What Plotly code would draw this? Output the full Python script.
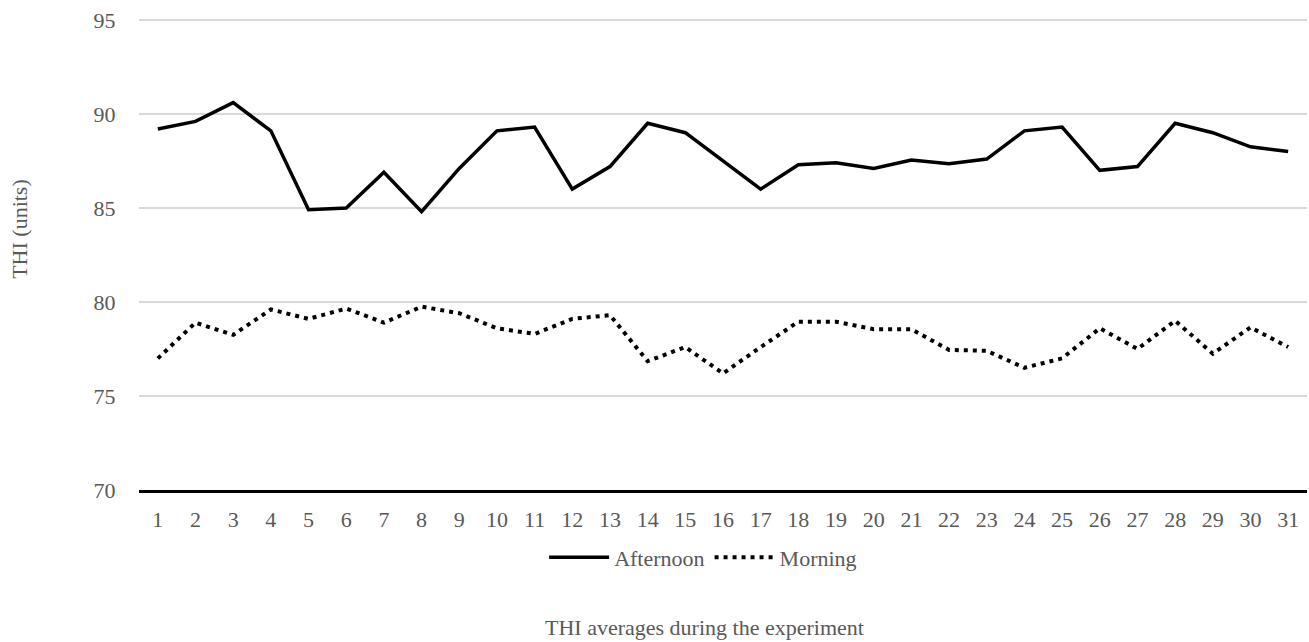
import plotly.graph_objects as go

days = [str(i) for i in range(1, 32)]
afternoon = [89.2, 89.6, 90.6, 89.1, 84.9, 85.0, 86.9, 84.8, 87.1, 89.1,
             89.3, 86.0, 87.2, 89.5, 89.0, 87.5, 86.0, 87.3, 87.4, 87.1,
             87.55, 87.35, 87.6, 89.1, 89.3, 87.0, 87.2, 89.5, 89.0, 88.25, 88.0]
morning = [77.0, 78.9, 78.25, 79.6, 79.1, 79.65, 78.9, 79.75, 79.4, 78.6,
           78.3, 79.1, 79.3, 76.85, 77.6, 76.2, 77.6, 78.95, 78.95, 78.55,
           78.55, 77.45, 77.4, 76.5, 77.0, 78.6, 77.5, 79.0, 77.25, 78.65, 77.6]
y_ticks = [70, 75, 80, 85, 90, 95]

FONT = "Liberation Serif, Times New Roman, serif"
GREY = "#595959"
FS = 22

fig = go.Figure()
fig.add_trace(go.Scatter(x=days, y=afternoon, mode="lines", name="Afternoon",
                         line=dict(color="black", width=3.5)))
fig.add_trace(go.Scatter(x=days, y=morning, mode="lines", name="Morning",
                         line=dict(color="black", width=4, dash="4px,5px")))

fig.update_layout(
    width=1309, height=642,
    margin=dict(l=139, r=2, t=18, b=152),
    paper_bgcolor="white", plot_bgcolor="white",
    font=dict(family=FONT, size=FS, color=GREY),
    showlegend=True,
    legend=dict(orientation="h", x=0.483, xanchor="center", y=-0.143, yanchor="middle",
                font=dict(family=FONT, size=FS, color=GREY), itemwidth=60,
                tracegroupgap=0),
)
fig.update_xaxes(type="category", range=[-0.5, 30.5], showgrid=False,
                 showline=True, linecolor="black", linewidth=2.5,
                 ticks="outside", ticklen=8, tickcolor="rgba(0,0,0,0)",
                 tickfont=dict(family=FONT, size=FS, color=GREY))
fig.update_yaxes(range=[70, 95.1], tickvals=y_ticks, showgrid=True,
                 gridcolor="#d9d9d9", gridwidth=1.5, zeroline=False,
                 ticks="outside", ticklen=18, tickcolor="rgba(0,0,0,0)",
                 tickfont=dict(family=FONT, size=FS, color=GREY))

fig.add_annotation(text="THI (units)", xref="paper", yref="paper",
                   x=-0.102, y=0.553, xanchor="center", yanchor="middle",
                   textangle=-90, showarrow=False,
                   font=dict(family=FONT, size=FS, color=GREY))
fig.add_annotation(text="THI averages during the experiment", xref="paper", yref="paper",
                   x=0.484, y=-0.2915, xanchor="center", yanchor="middle",
                   showarrow=False, font=dict(family=FONT, size=FS, color=GREY))

fig.write_html("out.html", config={"displayModeBar": False},
               post_script="document.body.style.margin='0';")
